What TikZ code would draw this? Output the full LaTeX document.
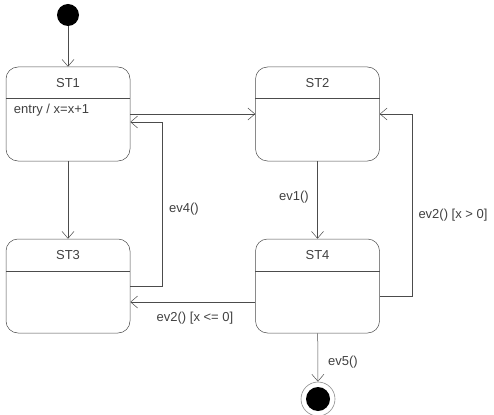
\documentclass[tikz,border=0pt]{standalone}
\usepackage{fontspec}
\setmainfont{Liberation Sans}
\usetikzlibrary{arrows.meta,positioning,calc}
\tikzset{
  stbox/.style   ={rectangle,rounded corners=12pt,draw=black!70,line width=0.5pt,minimum width=124pt,minimum height=94pt,inner sep=0pt},
  sttitle/.style ={font=\fontsize{13}{15}\selectfont,text=black!75},
  initdot/.style ={circle,fill=black,minimum size=22pt,inner sep=0pt},
  finaldot/.style={circle,draw=black!45,line width=0.6pt,fill=white,minimum size=34pt,inner sep=0pt,
                   path picture={\fill[black] (path picture bounding box.center) circle (12pt);}},
  trans/.style   ={draw=black!70,line width=0.5pt,-{Straight Barb[length=7pt,width=12pt]}},
  lbl/.style     ={font=\fontsize{13}{15}\selectfont,text=black!75,inner sep=1pt},
}
\begin{document}
\begin{tikzpicture}[x=1pt,y=-1pt]
  \useasboundingbox (0,0) rectangle (494,414);
  \node[initdot] (init) at (68,15) {};
  \foreach \name/\x/\y/\txt in {st1/68/114/ST1,st2/317.5/114/ST2,st3/68/286/ST3,st4/317.5/286/ST4}{
     \node[stbox] (\name) at (\x,\y) {};
     \node[sttitle] (\name-t) at ([yshift=-16pt]\name.north) {\txt};
     \draw[black!70,line width=0.5pt] ([yshift=-32pt]\name.north west) -- ([yshift=-32pt]\name.north east);
  }
  \node[lbl,anchor=west] (entry) at ($(st1.north west)+(7,43)$) {entry / x=x+1};
  \node[finaldot] (final) at (318,399) {};
  % transitions
  \draw[trans] (init) -- (st1);
  \draw[trans] (st1) -- (st2);
  \draw[trans] (st1) -- (st3);
  \draw[trans] (st2) -- (st4);
  \draw[trans] (st3.east) -- ++(32,0) |- ([yshift=-8pt]st1.east);
  \draw[trans] ([yshift=-10pt]st4.east) -- ++(32,0) |- (st2.east);
  \draw[trans] ([yshift=-16pt]st4.west) -- ([yshift=-16pt]st3.east);
  \draw[trans] (st4) -- (final);
  % labels
  \node[lbl] (l1) at (294,197) {ev1()};
  \node[lbl] (l2) at (453,215) {ev2() [x > 0]};
  \node[lbl] (l3) at (195,318) {ev2() [x <= 0]};
  \node[lbl] (l4) at (184,209) {ev4()};
  \node[lbl] (l5) at (343,362) {ev5()};
\end{tikzpicture}
\end{document}
